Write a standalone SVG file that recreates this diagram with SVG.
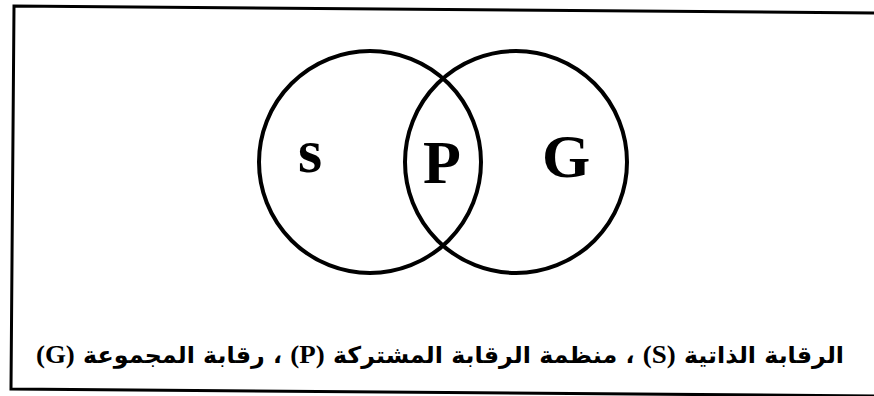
<svg xmlns="http://www.w3.org/2000/svg" width="874" height="396" viewBox="0 0 874 396">
<style>
.frame{fill:none;stroke:#000;stroke-width:3}
.circ{fill:none;stroke:#000;stroke-width:4}
.big{font-family:"Liberation Serif","Times New Roman",serif;font-weight:bold;font-size:62px;fill:#000}
.cap{font-family:"DejaVu Sans",sans-serif;font-weight:bold;font-size:23px;fill:#000}
.lat{font-family:"Liberation Serif","Times New Roman",serif;font-weight:bold;font-size:26px}
</style>
<rect width="874" height="396" fill="#fff"/>
<g id="frame">
<path class="frame" d="M 878,13 L 14,6 L 11,389 L 878,396"/>
</g>
<g id="connectors"></g>
<g id="node-S">
<circle class="circ" cx="370" cy="162" r="111"/>
<text class="big" x="310" y="172" text-anchor="middle">s</text>
</g>
<g id="node-G">
<circle class="circ" cx="516" cy="162" r="111"/>
<text class="big" x="566" y="177" text-anchor="middle">G</text>
</g>
<g id="node-P">
<text class="big" x="442" y="183" text-anchor="middle">P</text>
</g>
<g id="caption">
<text class="cap" x="844" y="363" direction="rtl" text-anchor="start" textLength="808" lengthAdjust="spacingAndGlyphs">الرقابة الذاتية <tspan class="lat">(S)</tspan> ، منظمة الرقابة المشتركة <tspan class="lat">(P)</tspan> ، رقابة المجموعة <tspan class="lat">(G)</tspan></text>
</g>
</svg>
